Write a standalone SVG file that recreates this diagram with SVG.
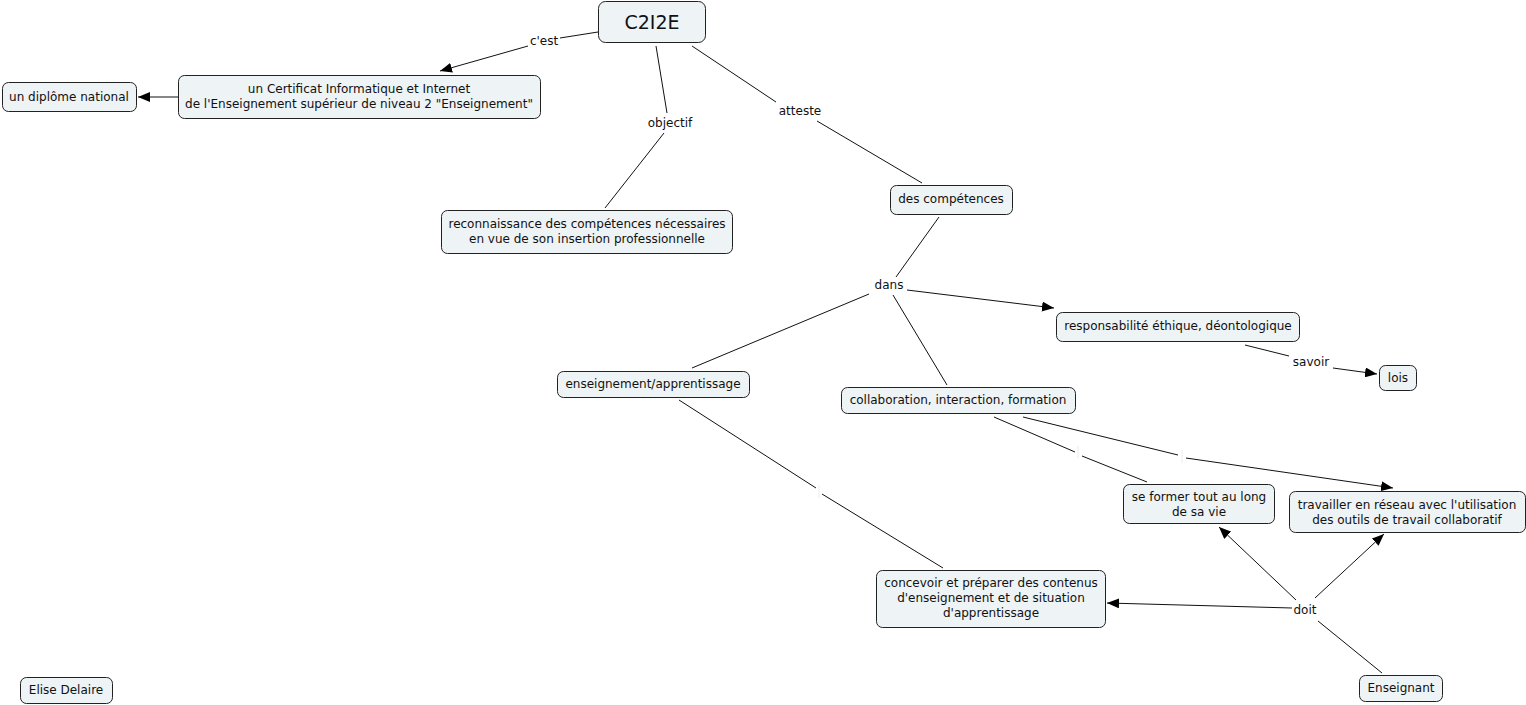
<svg xmlns="http://www.w3.org/2000/svg" width="1526" height="705" viewBox="0 0 1526 705">
<defs>
<marker id="ah" viewBox="0 0 12 10" refX="12" refY="5" markerWidth="12" markerHeight="10" markerUnits="userSpaceOnUse" orient="auto">
<path d="M0,0 L12,5 L0,10 z" fill="#000"/>
</marker>
<style>
.n rect{fill:#eef3f5;stroke:#222;stroke-width:1}
text{font-family:"DejaVu Sans",Verdana,sans-serif;font-size:12px;fill:#111;text-anchor:middle}
.big{font-size:19px}
#connectors line{stroke:#111;stroke-width:1;fill:none}
.a{marker-end:url(#ah)}
#connectors .gap{stroke:#ececec}
</style>
</defs>
<rect width="1526" height="705" fill="#fff"/>
<g id="connectors">
<line x1="598" y1="32" x2="560" y2="38"/>
<line class="a" x1="528" y1="46" x2="440" y2="71"/>
<line class="a" x1="178" y1="97" x2="138" y2="97"/>
<line x1="656" y1="46" x2="667" y2="113"/>
<line x1="664" y1="133" x2="605" y2="208"/>
<line x1="692" y1="46" x2="776" y2="102"/>
<line x1="817" y1="121" x2="922" y2="183"/>
<line x1="939" y1="217" x2="896" y2="277"/>
<line class="a" x1="907" y1="290" x2="1054" y2="308"/>
<line x1="869" y1="294" x2="692" y2="368"/>
<line x1="893" y1="295" x2="947" y2="385"/>
<line x1="1245" y1="345" x2="1289" y2="356"/>
<line class="a" x1="1333" y1="368" x2="1377" y2="374"/>
<line x1="679" y1="400" x2="816" y2="488"/>
<line x1="822" y1="494" x2="943" y2="568"/>
<line x1="994" y1="417" x2="1075" y2="452"/>
<line x1="1082" y1="456" x2="1147" y2="482"/>
<line x1="1023" y1="417" x2="1178" y2="455"/>
<line class="a" x1="1186" y1="458" x2="1393" y2="488"/>
<line x1="1382" y1="673" x2="1318" y2="621"/>
<line class="a" x1="1292" y1="608" x2="1107" y2="603"/>
<line class="a" x1="1296" y1="600" x2="1219" y2="527"/>
<line class="a" x1="1315" y1="598" x2="1384" y2="534"/>
<line class="gap" x1="819" y1="485" x2="819" y2="498"/>
<line class="gap" x1="1078" y1="446" x2="1078" y2="458"/>
<line class="gap" x1="1182" y1="450" x2="1182" y2="463"/>
</g>
<g id="labels">
<text x="544" y="45">c'est</text>
<text x="670" y="127">objectif</text>
<text x="800" y="115">atteste</text>
<text x="889" y="289">dans</text>
<text x="1311" y="366">savoir</text>
<text x="1305" y="614">doit</text>
</g>
<g id="n-c2i2e" class="n"><rect x="598.5" y="1.5" width="107" height="41" rx="7"/><text class="big" x="652" y="29">C2I2E</text></g>
<g id="n-diplome" class="n"><rect x="2.5" y="82.5" width="134" height="29" rx="6"/><text x="69" y="101">un diplôme national</text></g>
<g id="n-certificat" class="n"><rect x="178.5" y="75.5" width="362" height="43" rx="6"/><text x="359" y="93">un Certificat Informatique et Internet</text><text x="359" y="108">de l'Enseignement supérieur de niveau 2 "Enseignement"</text></g>
<g id="n-reconnaissance" class="n"><rect x="441.5" y="210.5" width="291" height="43" rx="6"/><text x="587" y="228">reconnaissance des compétences nécessaires</text><text x="587" y="243">en vue de son insertion professionnelle</text></g>
<g id="n-competences" class="n"><rect x="890.5" y="185.5" width="122" height="29" rx="6"/><text x="951" y="203">des compétences</text></g>
<g id="n-responsabilite" class="n"><rect x="1056.5" y="312.5" width="243" height="29" rx="6"/><text x="1178" y="330">responsabilité éthique, déontologique</text></g>
<g id="n-lois" class="n"><rect x="1379.5" y="365.5" width="37" height="25" rx="6"/><text x="1398" y="382">lois</text></g>
<g id="n-enseignement" class="n"><rect x="557.5" y="371.5" width="192" height="26" rx="6"/><text x="653" y="388">enseignement/apprentissage</text></g>
<g id="n-collaboration" class="n"><rect x="841.5" y="387.5" width="234" height="26" rx="6"/><text x="958" y="404">collaboration, interaction, formation</text></g>
<g id="n-former" class="n"><rect x="1123.5" y="484.5" width="151" height="39" rx="6"/><text x="1199" y="501">se former tout au long</text><text x="1199" y="516">de sa vie</text></g>
<g id="n-travailler" class="n"><rect x="1289.5" y="491.5" width="236" height="41" rx="6"/><text x="1407" y="509">travailler en réseau avec l'utilisation</text><text x="1407" y="524">des outils de travail collaboratif</text></g>
<g id="n-concevoir" class="n"><rect x="876.5" y="570.5" width="229" height="57" rx="6"/><text x="991" y="587">concevoir et préparer des contenus</text><text x="991" y="602">d'enseignement et de situation</text><text x="991" y="617">d'apprentissage</text></g>
<g id="n-enseignant" class="n"><rect x="1359.5" y="675.5" width="83" height="26" rx="6"/><text x="1401" y="692">Enseignant</text></g>
<g id="n-elise" class="n"><rect x="20.5" y="677.5" width="92" height="26" rx="6"/><text x="66" y="694">Elise Delaire</text></g>
</svg>
